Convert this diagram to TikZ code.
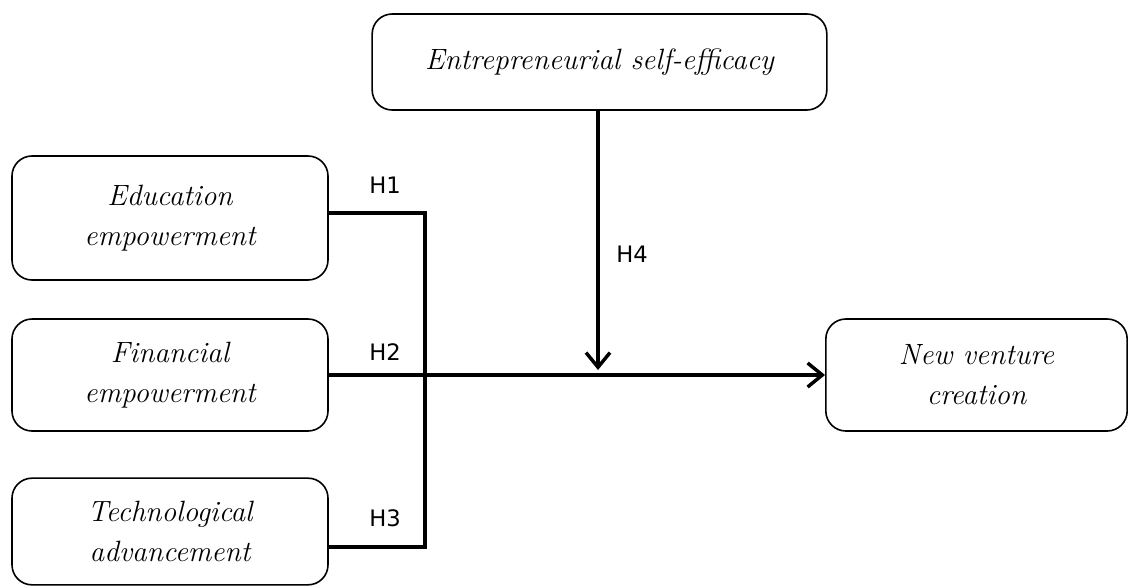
\documentclass[tikz,border=0pt]{standalone}
\usepackage{fontspec}
\newfontfamily\hfont{DejaVu Sans}
\usetikzlibrary{arrows.meta, positioning}
\tikzset{every node/.style={align=center}}
\tikzset{box/.style={draw, line width=1.2pt, rounded corners=15pt, inner sep=0pt, font=\fontsize{22}{30}\selectfont\itshape}}
\tikzset{link/.style={line width=2.8pt, black}}
\tikzset{arrowed/.style={link, -{Straight Barb[length=11pt, width=18pt, line width=2.6pt]}}}
\tikzset{hyp/.style={font=\hfont\fontsize{17}{20}\selectfont}}

\begin{document}
\begin{tikzpicture}[x=0.75pt, y=0.75pt]
	\useasboundingbox (0,0) rectangle (1130,587);

	% Boxes
	\node[box, minimum width=341pt, minimum height=72pt] (ese) at (599.5,525) {Entrepreneurial self-efficacy};
	\node[box, minimum width=237pt, minimum height=93pt] (edu) at (170,369) {Education\\empowerment};
	\node[box, minimum width=237pt, minimum height=84pt] (fin) at (170,212) {Financial\\empowerment};
	\node[box, minimum width=237pt, minimum height=80pt] (tech) at (170,55.5) {Technological\\advancement};
	\node[box, minimum width=226pt, minimum height=84pt] (nvc) at (976.5,212) {New venture\\creation};

	% Coordinates
	\coordinate (j1) at (425,374);
	\coordinate (j3) at (425,40);
	\coordinate (t4) at (598,217);

	% Links
	\draw[link] (edu.east |- j1) -- (j1) -- (j3) -- (tech.east |- j3);
	\draw[arrowed] (fin.east) -- (nvc.west);
	\draw[arrowed] (ese.south -| t4) -- (t4);

	% Hypotheses
	\node[hyp] (h1) at (385,402) {H1};
	\node[hyp] (h2) at (385,235) {H2};
	\node[hyp] (h3) at (385,69) {H3};
	\node[hyp] (h4) at (632,333) {H4};
\end{tikzpicture}
\end{document}
